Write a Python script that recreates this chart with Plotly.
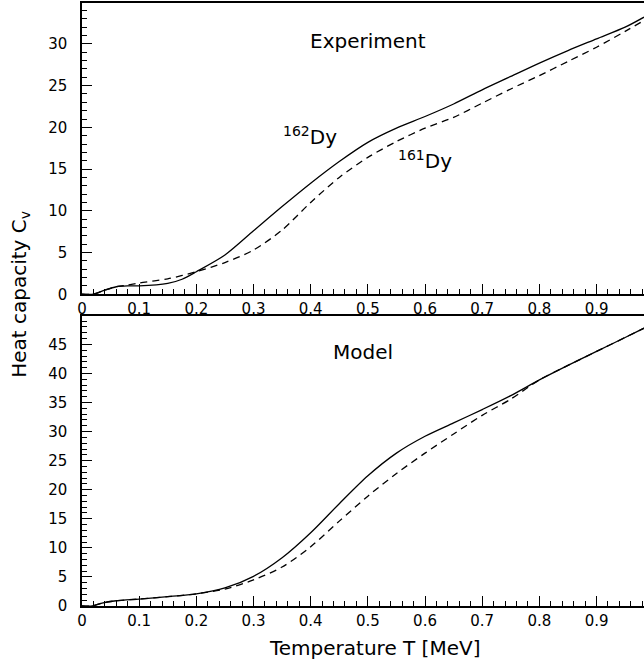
import plotly.graph_objects as go

# ---- data ----
T_exp162 = [0.0, 0.02, 0.04, 0.06, 0.08, 0.10, 0.15, 0.175, 0.20, 0.25, 0.30, 0.35, 0.40, 0.45, 0.50,
            0.55, 0.60, 0.65, 0.70, 0.75, 0.80, 0.85, 0.90, 0.95, 0.983]
C_exp162 = [0.0, 0.0, 0.5, 0.9, 1.0, 1.0, 1.3, 1.8, 2.7, 4.7, 7.6, 10.5, 13.3, 15.9, 18.2,
            19.9, 21.3, 22.8, 24.5, 26.1, 27.7, 29.2, 30.6, 32.0, 33.2]

T_exp161 = [0.0, 0.02, 0.04, 0.06, 0.08, 0.10, 0.15, 0.20, 0.25, 0.30, 0.35, 0.40, 0.45, 0.50,
            0.55, 0.60, 0.65, 0.70, 0.75, 0.80, 0.85, 0.90, 0.95, 0.983]
C_exp161 = [0.0, 0.0, 0.5, 0.9, 1.1, 1.35, 1.85, 2.7, 3.8, 5.3, 7.7, 11.0, 14.0, 16.4,
            18.3, 19.9, 21.2, 22.9, 24.6, 26.2, 27.9, 29.6, 31.5, 32.8]

T_mod162 = [0.0, 0.018, 0.035, 0.06, 0.10, 0.15, 0.20, 0.25, 0.30, 0.35, 0.40, 0.45, 0.50, 0.55,
            0.60, 0.65, 0.70, 0.75, 0.80, 0.85, 0.90, 0.95, 0.983]
C_mod162 = [0.0, 0.0, 0.5, 0.9, 1.2, 1.6, 2.1, 3.1, 5.1, 8.3, 12.6, 17.6, 22.4, 26.3,
            29.2, 31.5, 33.8, 36.2, 38.9, 41.4, 43.8, 46.2, 47.8]

T_mod161 = [0.0, 0.018, 0.035, 0.06, 0.10, 0.15, 0.20, 0.25, 0.30, 0.35, 0.40, 0.45, 0.50, 0.55,
            0.60, 0.65, 0.70, 0.75, 0.80, 0.85, 0.90, 0.95, 0.983]
C_mod161 = [0.0, 0.0, 0.5, 0.9, 1.2, 1.6, 2.1, 2.9, 4.5, 6.7, 10.2, 14.6, 18.9, 22.8,
            26.3, 29.6, 32.8, 35.6, 38.9, 41.4, 43.8, 46.2, 47.8]

FONT = "DejaVu Sans"
BLACK = "black"

fig = go.Figure()
solid = dict(color=BLACK, width=1.3, shape="spline", smoothing=0.8)
dashed = dict(color=BLACK, width=1.3, dash="7px,5px", shape="spline", smoothing=0.8)

fig.add_trace(go.Scatter(x=T_exp162, y=C_exp162, mode="lines", line=solid, xaxis="x", yaxis="y",
                         showlegend=False))
fig.add_trace(go.Scatter(x=T_exp161, y=C_exp161, mode="lines", line=dashed, xaxis="x", yaxis="y",
                         showlegend=False))
fig.add_trace(go.Scatter(x=T_mod162, y=C_mod162, mode="lines", line=solid, xaxis="x2", yaxis="y2",
                         showlegend=False))
fig.add_trace(go.Scatter(x=T_mod161, y=C_mod161, mode="lines", line=dashed, xaxis="x2", yaxis="y2",
                         showlegend=False))

def xax(anchor):
    return dict(range=[0, 0.983], anchor=anchor, tick0=0, dtick=0.1, ticks="inside", ticklen=10,
                tickwidth=1, tickcolor=BLACK, showline=True, linecolor=BLACK, linewidth=1.5,
                mirror=True, showgrid=False, zeroline=False,
                tickfont=dict(family=FONT, size=15, color=BLACK),
                minor=dict(dtick=0.02, ticks="inside", ticklen=5, tickcolor=BLACK, tickwidth=1,
                           showgrid=False))

def yax(rng, domain, anchor):
    return dict(range=rng, domain=domain, anchor=anchor, tick0=0, dtick=5, ticks="inside", ticklen=10,
                tickwidth=1, tickcolor=BLACK, showline=True, linecolor=BLACK, linewidth=1.5,
                showgrid=False, zeroline=False, ticklabelstandoff=10,
                tickfont=dict(family=FONT, size=15, color=BLACK),
                minor=dict(dtick=1, ticks="inside", ticklen=5, tickcolor=BLACK, tickwidth=1,
                           showgrid=False))

ann_font = dict(family=FONT, size=20, color=BLACK)
annotations = [
    dict(text="Experiment", x=0.50, y=30.4, xref="x", yref="y", showarrow=False, font=ann_font),
    dict(text="Model", x=0.492, y=43.7, xref="x2", yref="y2", showarrow=False, font=ann_font),
    dict(text="<sup>162</sup>Dy", x=0.399, y=19.0, xref="x", yref="y", showarrow=False, font=ann_font),
    dict(text="<sup>161</sup>Dy", x=0.600, y=16.1, xref="x", yref="y", showarrow=False, font=ann_font),
    dict(text="Heat capacity C<sub>v</sub>", x=0, y=0.516, xref="paper", yref="paper", xshift=-62,
         textangle=-90, showarrow=False, font=ann_font, xanchor="center", yanchor="middle"),
    dict(text="Temperature T [MeV]", x=0.52, y=0, xref="paper", yref="paper", yshift=-42,
         showarrow=False, font=ann_font, xanchor="center", yanchor="middle"),
]

fig.update_layout(
    width=644, height=664,
    margin=dict(l=82, r=0, t=3, b=58),
    paper_bgcolor="white", plot_bgcolor="white",
    xaxis=xax("y"),
    yaxis=yax([0, 34.9], [0.517, 1.0], "x"),
    xaxis2=xax("y2"),
    yaxis2=yax([0, 49.9], [0.0, 0.481], "x2"),
    annotations=annotations,
    font=dict(family=FONT, color=BLACK),
)

fig.write_html("out.html", config={"displayModeBar": False},
               post_script="document.body.style.margin='0';document.body.style.overflow='hidden';")
